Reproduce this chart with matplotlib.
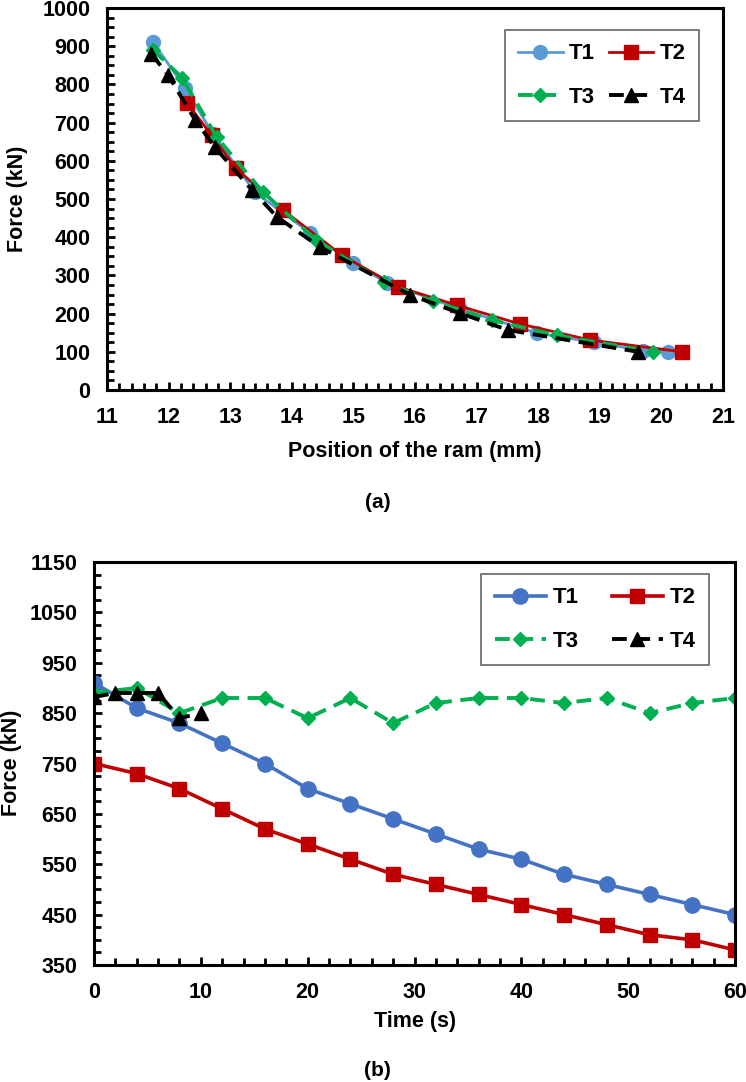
import numpy as np
import matplotlib
matplotlib.use('Agg')
import matplotlib.pyplot as plt
from matplotlib.ticker import MultipleLocator, FixedLocator

plt.rcParams['font.family'] = ['Liberation Sans', 'DejaVu Sans']
plt.rcParams['font.weight'] = 'bold'

# ---- panel (a): force vs ram position ----
a_t1_x = [11.75, 12.27, 12.72, 13.40, 14.30, 15.00, 15.55, 16.73, 17.98, 18.90, 19.70, 20.10]
a_t1_y = [910, 790, 670, 518, 411, 332, 280, 212, 149, 125, 103, 100]
a_t2_x = [12.30, 12.70, 13.09, 13.86, 14.81, 15.72, 16.68, 17.70, 18.84, 20.33]
a_t2_y = [751, 667, 581, 471, 353, 270, 222, 173, 131, 100]
a_t3_x = [11.75, 12.22, 12.78, 13.53, 14.40, 15.50, 16.30, 17.25, 18.30, 19.86]
a_t3_y = [890, 817, 662, 518, 392, 282, 232, 183, 143, 100]
a_t4_x = [11.72, 11.99, 12.43, 12.75, 13.35, 13.76, 14.46, 15.92, 16.73, 17.51, 19.62]
a_t4_y = [880, 825, 707, 636, 524, 453, 374, 249, 201, 157, 100]

# ---- panel (b): force vs time ----
b_t = [0, 4, 8, 12, 16, 20, 24, 28, 32, 36, 40, 44, 48, 52, 56, 60]
b_t1 = [910, 860, 830, 790, 750, 700, 670, 640, 610, 580, 560, 530, 510, 490, 470, 450]
b_t2 = [750, 730, 700, 660, 620, 590, 560, 530, 510, 490, 470, 450, 430, 410, 400, 380]
b_t3 = [890, 900, 850, 880, 880, 840, 880, 830, 870, 880, 880, 870, 880, 850, 870, 880]
b_t4_t = [0, 2, 4, 6, 8, 10]
b_t4 = [882, 890, 890, 890, 840, 850]
b_yticks = [350, 450, 550, 650, 750, 850, 950, 1050, 1150]

W, H = 746, 1082
fig = plt.figure(figsize=(W / 100, H / 100), dpi=100)


def style_axes(ax):
    for s in ax.spines.values():
        s.set_linewidth(2.2)
    ax.tick_params(which='both', direction='in', width=2.0, labelsize=15.5)
    ax.tick_params(which='major', length=6)
    ax.tick_params(which='minor', length=5)
    ax.tick_params(axis='x', pad=12)
    ax.tick_params(axis='y', pad=12)
    for lab in ax.get_xticklabels() + ax.get_yticklabels():
        lab.set_fontweight('bold')


def make_legend(ax, anchor, handlelength, colspace):
    h, l = ax.get_legend_handles_labels()
    order = [0, 2, 1, 3]  # rows: T1 T2 / T3 T4
    leg = ax.legend([h[i] for i in order], [l[i] for i in order], ncol=2,
                    loc='upper right', bbox_to_anchor=anchor,
                    bbox_transform=fig.transFigure, fontsize=16, frameon=True,
                    fancybox=False, edgecolor='#404040', handlelength=handlelength,
                    handletextpad=0.3, columnspacing=colspace, labelspacing=1.0,
                    borderpad=0.6, borderaxespad=0)
    leg.get_frame().set_linewidth(1.2)
    for t in leg.get_texts():
        t.set_fontweight('bold')
    return leg


dash = (3.8, 2.2)

ax1 = fig.add_axes([107 / W, 1 - 390 / H, (723 - 107) / W, (390 - 8) / H])
ax1.plot(a_t1_x, a_t1_y, '-o', color='#5B9BD5', lw=2.0, ms=10, label='T1')
ax1.plot(a_t2_x, a_t2_y, '-s', color='#C00000', lw=2.0, ms=10, label='T2')
ax1.plot(a_t3_x, a_t3_y, '--D', color='#00B050', lw=2.8, ms=7, dashes=dash, label='T3')
ax1.plot(a_t4_x, a_t4_y, '--^', color='black', lw=2.8, ms=10, dashes=dash, label='T4')
ax1.set_xlim(11, 21)
ax1.set_ylim(0, 1000)
ax1.xaxis.set_major_locator(MultipleLocator(1))
ax1.xaxis.set_minor_locator(MultipleLocator(0.2))
ax1.yaxis.set_major_locator(MultipleLocator(100))
ax1.yaxis.set_minor_locator(MultipleLocator(25))
style_axes(ax1)
make_legend(ax1, (699 / W, 1 - 30 / H), 2.0, 0.6)

ax2 = fig.add_axes([94 / W, 1 - 965 / H, (735 - 94) / W, (965 - 562) / H])
ax2.plot(b_t, b_t1, '-o', color='#4472C4', lw=2.6, ms=11, label='T1')
ax2.plot(b_t, b_t2, '-s', color='#C00000', lw=2.6, ms=10, label='T2')
ax2.plot(b_t, b_t3, '--D', color='#00B050', lw=2.8, ms=7, dashes=dash, label='T3')
ax2.plot(b_t4_t, b_t4, '--^', color='black', lw=2.8, ms=10, dashes=dash, label='T4')
ax2.set_xlim(0, 60)
ax2.set_ylim(350, 1150)
ax2.xaxis.set_major_locator(MultipleLocator(10))
ax2.xaxis.set_minor_locator(MultipleLocator(2))
ax2.yaxis.set_major_locator(FixedLocator(b_yticks))
ax2.yaxis.set_minor_locator(MultipleLocator(25))
style_axes(ax2)
make_legend(ax2, (709 / W, 1 - 574 / H), 2.3, 1.5)

# axis titles and panel captions
fig.text(415 / W, 1 - 452 / H, 'Position of the ram (mm)', ha='center', va='center',
         fontsize=15.5, fontweight='bold')
fig.text(18 / W, 1 - 199 / H, 'Force (kN)', ha='center', va='center', rotation=90,
         fontsize=15.5, fontweight='bold')
fig.text(415 / W, 1 - 1022 / H, 'Time (s)', ha='center', va='center',
         fontsize=15.5, fontweight='bold')
fig.text(12 / W, 1 - 763 / H, 'Force (kN)', ha='center', va='center', rotation=90,
         fontsize=15.5, fontweight='bold')
fig.text(378 / W, 1 - 502 / H, '(a)', ha='center', va='center', fontsize=15, fontweight='bold')
fig.text(377 / W, 1 - 1070 / H, '(b)', ha='center', va='center', fontsize=15, fontweight='bold')

fig.savefig('out.png', dpi=100)
